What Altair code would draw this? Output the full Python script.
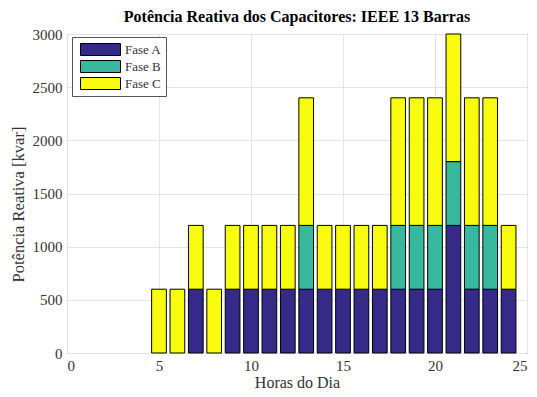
import altair as alt
import pandas as pd

hours = list(range(1, 25))
fase_a = [0, 0, 0, 0, 0, 0, 600, 0, 600, 600, 600, 600, 600, 600, 600, 600, 600, 600, 600, 600, 1200, 600, 600, 600]
fase_b = [0, 0, 0, 0, 0, 0, 0, 0, 0, 0, 0, 0, 600, 0, 0, 0, 0, 600, 600, 600, 600, 600, 600, 0]
fase_c = [0, 0, 0, 0, 600, 600, 600, 600, 600, 600, 600, 600, 1200, 600, 600, 600, 600, 1200, 1200, 1200, 1200, 1200, 1200, 600]
series = ["Fase A", "Fase B", "Fase C"]
colors = ["#352a87", "#38b99e", "#f9fb0e"]

rows = []
for i, h in enumerate(hours):
    base = 0
    for name, vals in zip(series, [fase_a, fase_b, fase_c]):
        v = vals[i]
        if v > 0:
            rows.append({"hora": h, "x0": h - 0.4, "x1": h + 0.4, "y0": base, "y1": base + v, "fase": name})
        base += v
df = pd.DataFrame(rows)

font = "Liberation Serif"

chart = alt.Chart(df).mark_rect(stroke="black", strokeWidth=1).encode(
    x=alt.X("x0:Q", scale=alt.Scale(domain=[0, 25], nice=False),
            axis=alt.Axis(values=[0, 5, 10, 15, 20, 25], title="Horas do Dia", ticks=False, format="d",
                          labelFont=font, labelFontSize=15, labelPadding=5, titlePadding=1,
                          titleFont=font, titleFontSize=16)),
    x2="x1:Q",
    y=alt.Y("y0:Q", scale=alt.Scale(domain=[0, 3000], nice=False),
            axis=alt.Axis(values=[0, 500, 1000, 1500, 2000, 2500, 3000], title="Potência Reativa [kvar]",
                          format="d", ticks=False, labelFont=font, labelFontSize=15, labelPadding=5,
                          titlePadding=6, titleFont=font, titleFontSize=16.5, titleY=170)),
    y2="y1:Q",
    color=alt.Color("fase:N", scale=alt.Scale(domain=series, range=colors),
                    legend=alt.Legend(title=None, orient="none", legendX=5, legendY=3,
                                      symbolType="M-2.5,-0.75H2.5V0.75H-2.5Z", symbolSize=256,
                                      symbolOffset=16,
                                      symbolStrokeColor="black", symbolStrokeWidth=1,
                                      fillColor="white", strokeColor="#555",
                                      padding=4, rowPadding=0, labelFontSize=13, labelFont=font,
                                      labelColor="#333", labelOffset=16)),
).properties(
    width=460, height=319,
    title=alt.TitleParams("Potência Reativa dos Capacitores: IEEE 13 Barras", fontSize=16, font=font,
                          fontWeight="bold", anchor="middle", offset=2, color="#000"),
    autosize=alt.AutoSizeParams(type="none"),
    padding={"left": 59, "top": 26, "right": 2, "bottom": 36},
).configure_axis(
    labelColor="#333", titleColor="#333", titleFontWeight="normal", gridColor="#e4e4e4", domain=False,
).configure_view(stroke="#777", strokeWidth=1)

chart.save("out.html", embed_options={"renderer": "svg", "actions": False})
